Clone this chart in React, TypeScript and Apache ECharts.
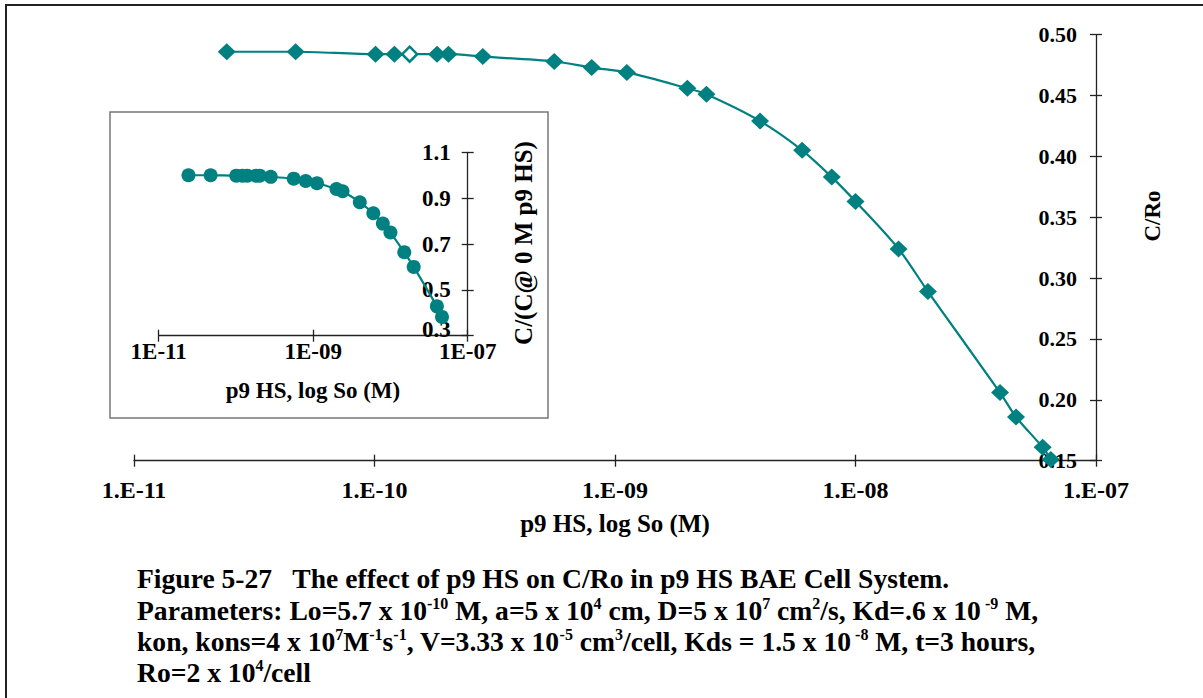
import React, { useEffect, useRef } from "react";
import * as echarts from "echarts";

// ---- Main chart data (p9 HS concentration So in M, C/Ro) ----
const mainSo = [
  2.43e-11, 4.7e-11, 1.01e-10, 1.21e-10, 1.4e-10, 1.82e-10, 2.03e-10, 2.82e-10,
  5.59e-10, 8.0e-10, 1.12e-9, 2.0e-9, 2.4e-9, 4.01e-9, 6.0e-9, 7.97e-9, 1.0e-8,
  1.51e-8, 2.0e-8, 3.99e-8, 4.65e-8, 6.0e-8, 6.49e-8,
];
const mainCRo = [
  0.486, 0.486, 0.484, 0.484, 0.484, 0.484, 0.484, 0.482, 0.478, 0.473, 0.469,
  0.456, 0.451, 0.429, 0.405, 0.383, 0.363, 0.324, 0.289, 0.206, 0.186, 0.161,
  0.151,
];
const hollowPoints = [4];

// ---- Inset data (normalized C/(C@0 M p9 HS)) ----
const insetSo = [
  2.43e-11, 4.7e-11, 1.01e-10, 1.21e-10, 1.4e-10, 1.82e-10, 2.03e-10, 2.82e-10,
  5.59e-10, 8.0e-10, 1.12e-9, 2.0e-9, 2.4e-9, 4.01e-9, 6.0e-9, 7.97e-9, 1.0e-8,
  1.51e-8, 2.0e-8, 3.99e-8, 4.65e-8,
];
const insetRatio = [
  1.0, 1.0, 0.998, 0.998, 0.998, 0.998, 0.998, 0.993, 0.985, 0.975, 0.965, 0.94,
  0.93, 0.882, 0.834, 0.789, 0.75, 0.664, 0.6, 0.428, 0.382,
];

// ---- Tick labels ----
const mainXLabels = ["1.E-11", "1.E-10", "1.E-09", "1.E-08", "1.E-07"];
const insetXLabels = ["1E-11", "1E-09", "1E-07"];

// ---- Texts ----
const mainXTitle = "p9 HS, log So (M)";
const mainYTitle = "C/Ro";
const insetXTitle = "p9 HS, log So (M)";
const insetYTitle = "C/(C@ 0 M p9 HS)";
const captionLines = [
  "Figure 5-27   The effect of p9 HS on C/Ro in p9 HS BAE Cell System.",
  "Parameters: Lo=5.7 x 10{s|-10} M, a=5 x 10{s|4} cm, D=5 x 10{s|7} cm{s|2}/s, Kd=.6 x 10{s| -9} M,",
  "kon, kons=4 x 10{s|7}M{s|-1}s{s|-1}, V=3.33 x 10{s|-5} cm{s|3}/cell, Kds = 1.5 x 10{s| -8} M, t=3 hours,",
  "Ro=2 x 10{s|4}/cell",
];

const FONT = "'Liberation Serif', 'Times New Roman', serif";
const TEAL = "#008080";
const AXIS = "#222";

function makeText(
  x: number,
  y: number,
  text: string,
  size: number,
  rotate = 0,
  align = "center",
  supSize = 13,
  lineHeight = 26
) {
  return {
    type: "text",
    x,
    y,
    rotation: rotate,
    silent: true,
    style: {
      text,
      fontFamily: FONT,
      fontSize: size,
      fontWeight: "bold",
      fill: "#000",
      align,
      textAlign: align,
      verticalAlign: "middle",
      textVerticalAlign: "middle",
      lineHeight,
      rich: {
        s: {
          fontFamily: FONT,
          fontSize: supSize,
          fontWeight: "bold",
          fill: "#000",
          verticalAlign: "top",
          lineHeight: supSize + 2,
        },
      },
    },
  };
}

export default function App() {
  const ref = useRef<HTMLDivElement>(null);

  useEffect(() => {
    if (!ref.current) return;
    const chart = echarts.init(ref.current, undefined, { renderer: "svg" });

    const labelStyle = (size: number) => ({
      fontFamily: FONT,
      fontSize: size,
      fontWeight: "bold" as const,
      color: "#000",
    });

    const xAxisBase = (
      grid: number,
      interval: number,
      labels: string[],
      size: number,
      margin: number,
      lineHeight?: number
    ) => ({
      type: "value",
      gridIndex: grid,
      position: "bottom",
      min: -11,
      max: -7,
      interval,
      axisLine: { show: true, onZero: false, lineStyle: { color: AXIS, width: 1.3 } },
      axisTick: { show: true, length: 6, lineStyle: { color: AXIS, width: 1.3 } },
      axisLabel: {
        ...labelStyle(size),
        margin,
        lineHeight,
        formatter: (v: number) => labels[Math.round((v + 11) / interval)] ?? "",
      },
      splitLine: { show: false },
    });
    const xAxisInner = (grid: number, interval: number) => ({
      type: "value",
      gridIndex: grid,
      position: "bottom",
      min: -11,
      max: -7,
      interval,
      axisLine: { show: false },
      axisTick: { show: true, inside: true, length: 6, lineStyle: { color: AXIS, width: 1.3 } },
      axisLabel: { show: false },
      splitLine: { show: false },
    });
    const yAxisBase = (
      grid: number,
      min: number,
      max: number,
      interval: number,
      digits: number,
      size: number,
      margin: number,
      liftMin = false
    ) => ({
      type: "value",
      gridIndex: grid,
      position: "right",
      min,
      max,
      interval,
      axisLine: { show: true, onZero: false, lineStyle: { color: AXIS, width: 1.3 } },
      axisTick: { show: true, length: 6, lineStyle: { color: AXIS, width: 1.3 } },
      axisLabel: {
        ...labelStyle(size),
        inside: true,
        margin,
        formatter: (v: number) =>
          liftMin && Math.abs(v - min) < 1e-9 ? `{lift|${v.toFixed(digits)}}` : v.toFixed(digits),
        rich: {
          lift: {
            ...labelStyle(size),
            lineHeight: size,
            padding: [0, 0, 12, 0],
          },
        },
      },
      splitLine: { show: false },
    });
    const yAxisInner = (grid: number, min: number, max: number, interval: number) => ({
      type: "value",
      gridIndex: grid,
      position: "right",
      min,
      max,
      interval,
      axisLine: { show: false },
      axisTick: { show: true, inside: true, length: 6, lineStyle: { color: AXIS, width: 1.3 } },
      axisLabel: { show: false },
      splitLine: { show: false },
    });

    const mainData = mainSo.map((s, i) => {
      const point: any = { value: [Math.log10(s), mainCRo[i]] };
      if (hollowPoints.includes(i)) {
        point.itemStyle = { color: "#fff", borderColor: TEAL, borderWidth: 2.5 };
        point.symbolSize = [15, 15];
      }
      return point;
    });
    const insetData = insetSo.map((s, i) => [Math.log10(s), insetRatio[i]]);

    chart.setOption({
      animation: false,
      backgroundColor: "#fff",
      grid: [
        { left: 134, top: 34.7, width: 962, height: 426, containLabel: false },
        { left: 158.7, top: 152.3, width: 309, height: 183.4, containLabel: false },
      ],
      xAxis: [
        xAxisBase(0, 1, mainXLabels, 24, 17),
        xAxisInner(0, 1),
        xAxisBase(1, 2, insetXLabels, 23, 9, 14),
        xAxisInner(1, 2),
      ],
      yAxis: [
        yAxisBase(0, 0.15, 0.5, 0.05, 2, 22, 19),
        yAxisInner(0, 0.15, 0.5, 0.05),
        yAxisBase(1, 0.3, 1.1, 0.2, 1, 23, 17, true),
        yAxisInner(1, 0.3, 1.1, 0.2),
      ],
      series: [
        {
          type: "line",
          xAxisIndex: 0,
          yAxisIndex: 0,
          data: mainData,
          symbol: "diamond",
          symbolSize: [18, 17],
          smooth: 0.3,
          clip: false,
          lineStyle: { color: TEAL, width: 2.2 },
          itemStyle: { color: TEAL },
          z: 5,
        },
        {
          type: "line",
          xAxisIndex: 2,
          yAxisIndex: 2,
          data: insetData,
          symbol: "circle",
          symbolSize: 14,
          smooth: 0.3,
          clip: false,
          lineStyle: { color: TEAL, width: 2.2 },
          itemStyle: { color: TEAL },
          z: 5,
        },
      ],
      graphic: [
        {
          type: "rect",
          silent: true,
          shape: { x: 6, y: 5, width: 1300, height: 800 },
          style: { fill: "none", stroke: "#222", lineWidth: 2 },
        },
        {
          type: "rect",
          silent: true,
          shape: { x: 110, y: 112, width: 438, height: 306 },
          style: { fill: "none", stroke: "#777", lineWidth: 1.5 },
        },
        makeText(615, 523, mainXTitle, 25),
        makeText(1152, 216, mainYTitle, 23, Math.PI / 2),
        makeText(313, 390, insetXTitle, 23),
        makeText(523, 243, insetYTitle, 25, Math.PI / 2),
        makeText(137, 578, captionLines[0], 27.6, 0, "left", 16, 30),
        makeText(137, 610, captionLines[1], 27.6, 0, "left", 16, 30),
        makeText(137, 641, captionLines[2], 27.6, 0, "left", 16, 30),
        makeText(137, 672, captionLines[3], 27.6, 0, "left", 16, 30),
      ],
    });

    return () => chart.dispose();
  }, []);

  return (
    <div
      ref={ref}
      style={{ position: "absolute", left: 0, top: 0, width: 1203, height: 698, background: "#fff" }}
    />
  );
}
